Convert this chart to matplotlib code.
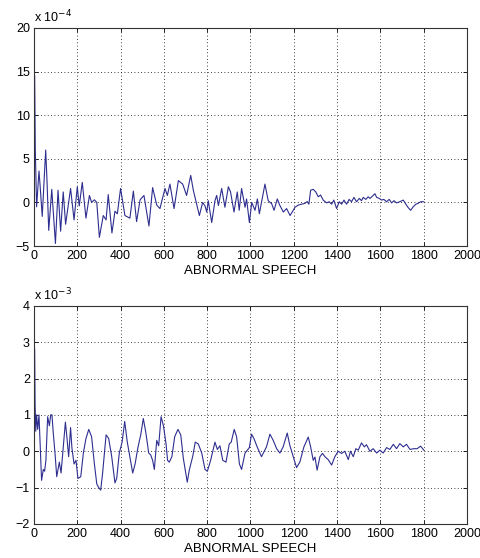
import matplotlib.pyplot as plt
import numpy as np

plt.rcParams['font.family'] = ['Liberation Sans', 'DejaVu Sans']

# top signal, units of 1e-4 (local extrema)
top_x = [3, 6, 12, 23, 28, 38, 54, 60, 68, 82, 99, 111, 123, 135, 146, 169, 185,
         200, 209, 223, 240, 256, 266, 279, 290, 302, 320, 333, 343, 360, 374, 385,
         400, 420, 443, 459, 474, 490, 508, 531, 548, 567, 582, 605, 616, 628, 647,
         667, 687, 705, 724, 736, 764, 779, 790, 798, 805, 821, 836, 844, 852, 867,
         882, 898, 908, 924, 939, 948, 959, 975, 982, 995, 1006, 1021, 1032, 1041,
         1067, 1082, 1098, 1109, 1124, 1136, 1152, 1167, 1183, 1206, 1221, 1236,
         1252, 1262, 1270, 1278, 1290, 1302, 1313, 1324, 1336, 1352, 1364, 1375,
         1385, 1398, 1410, 1421, 1432, 1444, 1456, 1467, 1478, 1490, 1503, 1513,
         1521, 1533, 1544, 1552, 1564, 1575, 1583, 1595, 1606, 1616, 1629, 1641,
         1652, 1663, 1675, 1690, 1706, 1718, 1729, 1740, 1752, 1764, 1775, 1786, 1801]
top_y = [14.5, 6.0, -0.5, 3.6, 2.0, -1.6, 6.0, 2.5, -3.2, 1.5, -4.7, 1.4, -3.3, 1.2,
         -2.5, 1.6, -2.0, 1.8, -0.4, 2.3, -1.8, 0.8, 0.0, 0.3, 0.0, -4.0, -1.5, -2.0,
         0.9, -3.5, -1.0, -1.3, 1.6, -1.5, -1.8, 1.3, -2.2, 0.3, 0.8, -2.7, 1.7, -0.3,
         -0.7, 1.6, 0.8, 2.1, -0.7, 2.5, 2.1, 0.8, 3.1, 1.4, -1.5, 0.0, -0.4, -1.1,
         0.2, -2.3, 0.2, 0.8, -0.35, 1.6, -0.55, 1.8, 1.2, -1.1, 1.2, -0.9, 1.6,
         -0.55, 0.4, -2.3, 0.0, -0.9, 0.4, -1.3, 2.1, 0.2, -0.15, -0.9, 0.4, -0.35,
         -1.1, -0.7, -1.5, -0.55, -0.3, -0.2, -0.1, 0.1, -0.2, 1.4, 1.5, 1.2, 0.65,
         0.85, 0.27, -0.05, 0.08, -0.2, 0.27, -0.7, 0.08, -0.2, 0.27, -0.2, 0.35,
         0.08, 0.58, 0.08, 0.46, 0.2, 0.58, 0.35, 0.65, 0.46, 0.73, 1.0, 0.58, 0.46,
         0.27, 0.35, 0.08, 0.35, -0.05, 0.2, -0.05, 0.08, 0.27, -0.2, -0.6, -0.9,
         -0.5, -0.2, -0.1, 0.08, 0.08]

# bottom signal, units of 1e-3
bot_x = [3, 5, 8, 12, 17, 23, 28, 35, 43, 49, 55, 63, 71, 77, 83, 89, 97, 105, 117,
         125, 135, 145, 151, 160, 169, 175, 185, 194, 203, 216, 228, 240, 253, 266,
         279, 290, 299, 308, 317, 333, 345, 359, 374, 382, 394, 407, 419, 431, 443,
         456, 467, 480, 493, 505, 517, 530, 539, 548, 556, 567, 576, 587, 598, 610,
         617, 625, 637, 650, 665, 678, 690, 708, 718, 733, 745, 759, 775, 790, 801,
         816, 836, 847, 859, 872, 887, 902, 911, 925, 936, 949, 959, 975, 995, 1005,
         1016, 1031, 1051, 1074, 1090, 1105, 1121, 1136, 1151, 1170, 1182, 1198,
         1213, 1228, 1247, 1267, 1278, 1290, 1298, 1308, 1321, 1333, 1344, 1359,
         1375, 1390, 1405, 1421, 1436, 1452, 1462, 1475, 1487, 1498, 1513, 1526,
         1536, 1552, 1567, 1583, 1598, 1613, 1629, 1644, 1660, 1675, 1690, 1706,
         1721, 1737, 1755, 1770, 1786, 1801]
bot_y = [2.8, 1.3, 0.55, 1.0, 0.6, 1.0, 0.25, -0.8, -0.5, -0.55, -0.25, 0.95, 0.7,
         1.0, 1.0, 0.5, -0.05, -0.7, -0.3, -0.6, 0.1, 0.8, 0.45, -0.15, 0.65, 0.1,
         -0.35, -0.25, -0.75, -0.7, -0.05, 0.35, 0.6, 0.4, -0.35, -0.9, -1.0, -1.07,
         -0.6, 0.45, 0.35, -0.15, -0.87, -0.75, -0.05, 0.25, 0.82, 0.25, -0.15, -0.6,
         -0.35, 0.1, 0.45, 0.9, 0.5, -0.05, -0.1, -0.25, -0.5, 0.3, 0.15, 0.95, 0.7,
         0.2, -0.25, -0.3, -0.15, 0.4, 0.6, 0.45, -0.2, -0.85, -0.5, -0.15, 0.25, 0.2,
         -0.05, -0.5, -0.55, -0.25, 0.25, 0.05, 0.15, -0.25, -0.3, 0.2, 0.25, 0.6,
         0.4, -0.35, -0.5, -0.05, 0.1, 0.47, 0.35, 0.12, -0.15, 0.12, 0.47, 0.3, 0.07,
         -0.05, 0.12, 0.5, 0.16, -0.15, -0.45, -0.3, 0.12, 0.39, 0.12, -0.25, -0.16,
         -0.52, -0.15, -0.06, -0.15, -0.23, -0.38, -0.15, 0.0, -0.06, 0.0, -0.23, 0.0,
         -0.15, 0.07, 0.03, 0.23, 0.12, 0.18, 0.0, 0.07, -0.05, 0.03, -0.05, 0.1,
         0.05, 0.19, 0.07, 0.21, 0.12, 0.19, 0.05, 0.07, 0.07, 0.14, 0.03]

xticks = np.arange(0, 2001, 200)
line_color = '#2e2e90'

fig = plt.figure(figsize=(4.81, 5.58), dpi=100)
ax1 = fig.add_axes([0.0707, 0.559, 0.900, 0.391])
ax2 = fig.add_axes([0.0707, 0.061, 0.900, 0.391])

panels = [
    (ax1, top_x, top_y, (-5, 20), np.arange(-5, 21, 5), '-4'),
    (ax2, bot_x, bot_y, (-2, 4), np.arange(-2, 5, 1), '-3'),
]

for ax, xs, ys, ylim, yticks, expo in panels:
    ax.plot(xs, ys, color=line_color, linewidth=0.8)
    ax.set_xlim(0, 2000)
    ax.set_ylim(*ylim)
    ax.set_xticks(xticks)
    ax.set_yticks(yticks)
    ax.grid(True, color='black', linestyle=(0, (1, 3)), linewidth=0.6)
    ax.tick_params(direction='in', top=True, right=True, labelsize=9,
                   length=3, width=0.6, pad=3)
    for s in ax.spines.values():
        s.set_linewidth(0.8)
        s.set_color('#333333')
    ax.set_xlabel('ABNORMAL SPEECH', fontsize=9.5, labelpad=2)
    ax.text(0.0, 1.01, 'x 10$^{' + expo + '}$', transform=ax.transAxes,
            fontsize=9, ha='left', va='bottom')

plt.savefig('out.png', dpi=100, facecolor='white')
